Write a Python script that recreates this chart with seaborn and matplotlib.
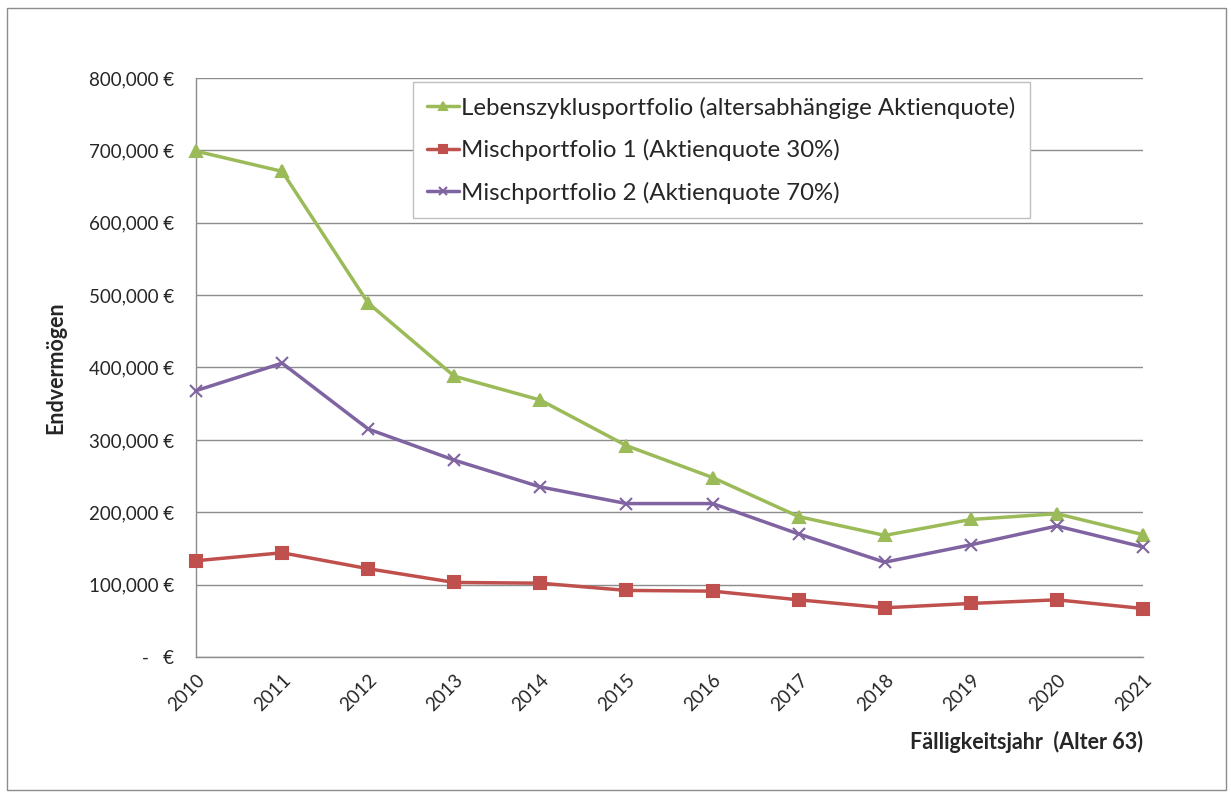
import matplotlib
matplotlib.use("Agg")
import matplotlib.pyplot as plt
from matplotlib.patches import Rectangle
import seaborn as sns
import pandas as pd

years = [2010, 2011, 2012, 2013, 2014, 2015, 2016, 2017, 2018, 2019, 2020, 2021]
lebenszyklus = [699000, 671000, 489000, 388000, 355000, 292000, 248000, 194000, 168000, 190000, 198000, 169000]
misch1 = [133000, 144000, 122000, 103000, 102000, 92000, 91000, 79000, 68000, 74000, 79000, 67000]
misch2 = [368000, 406000, 315000, 272000, 235000, 212000, 212000, 170000, 131000, 155000, 181000, 152000]
series_names = ["Lebenszyklusportfolio (altersabhängige Aktienquote)",
                "Mischportfolio 1 (Aktienquote 30%)",
                "Mischportfolio 2 (Aktienquote 70%)"]
y_ticks = [0, 100000, 200000, 300000, 400000, 500000, 600000, 700000, 800000]

colors = ["#9BBB59", "#C0504D", "#8064A2"]
marker_list = ["^", "s", "x"]

sns.set_style("white")
plt.rcParams["font.family"] = ["Lato", "DejaVu Sans"]

fig = plt.figure(figsize=(12.31, 7.96), dpi=100)
ax = fig.add_axes([196/1231, 1 - 657/796, (1143-196)/1231, (657-78)/796])

for name, vals, c, m in zip(series_names, [lebenszyklus, misch1, misch2], colors, marker_list):
    d = pd.DataFrame({"Jahr": years, "Wert": vals})
    sns.lineplot(data=d, x="Jahr", y="Wert", color=c, marker=m, markersize=8,
                 markeredgewidth=1.5, markeredgecolor=c, linewidth=2.5, label=name, ax=ax,
                 clip_on=False, zorder=3)

ax.set_xlim(years[0], years[-1])
ax.set_ylim(0, 800000)
ax.set_xticks(years)
ax.set_xticklabels([str(y) for y in years], rotation=45, ha="right", rotation_mode="anchor", fontsize=13.5)
ax.set_yticks(y_ticks)
ax.set_yticklabels([("-   €" if v == 0 else f"{v:,.0f} €") for v in y_ticks], fontsize=13.5)
ax.yaxis.grid(True, color="#8c8c8c", linewidth=1)
ax.xaxis.grid(False)
ax.set_axisbelow(True)
for s in ["top", "right"]:
    ax.spines[s].set_visible(False)
for s in ["left", "bottom"]:
    ax.spines[s].set_color("#8c8c8c")
    ax.spines[s].set_linewidth(1)
ax.tick_params(axis="both", which="major", length=6, color="#8c8c8c", direction="out", width=1)
ax.tick_params(axis="y", pad=10)
ax.tick_params(axis="x", pad=4)

ax.set_xlabel("")
ax.set_ylabel("Endvermögen", fontsize=15.5, fontweight="bold", labelpad=16)
fig.text(1143/1231, 1 - 742/796, "Fälligkeitsjahr  (Alter 63)", ha="right", va="center",
         fontsize=15.5, fontweight="bold")

leg = ax.legend(loc="upper left", bbox_to_anchor=((413-196)/947, 1 - (82-78)/579),
                frameon=True, fancybox=False, fontsize=17.3, handlelength=1.3,
                handletextpad=0.1, labelspacing=0.85, borderpad=0.6, borderaxespad=0)
leg.get_frame().set_edgecolor("#bfbfbf")
leg.get_frame().set_linewidth(1)
leg.get_frame().set_alpha(1)
for h in leg.legend_handles:
    h.set_linewidth(2.5)
    h.set_markersize(6)

fig.add_artist(Rectangle((7/1231, 1 - 790/796), (1226-7)/1231, (790-8)/796,
                         transform=fig.transFigure, fill=False, edgecolor="#8c8c8c", linewidth=1))

fig.savefig("out.png", dpi=100)
